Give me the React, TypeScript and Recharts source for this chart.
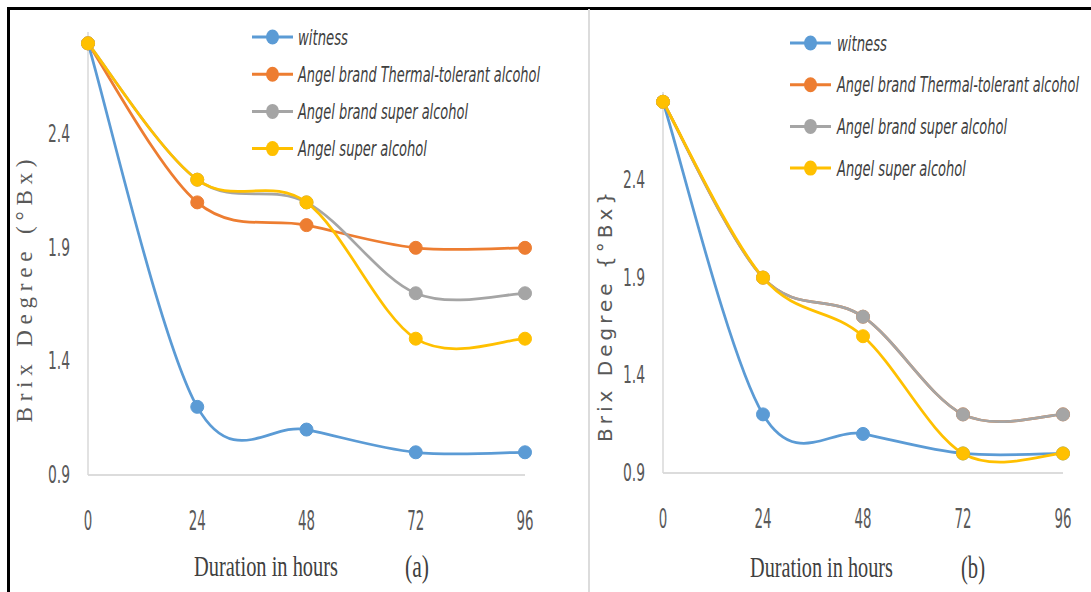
import React from 'react';
import { LineChart, Line, XAxis, YAxis, Legend } from 'recharts';

const hours = [0, 24, 48, 72, 96];
const yTicks = [0.9, 1.4, 1.9, 2.4];

const seriesKeys = ['witness', 'thermal', 'brandSuper', 'angelSuper'];
const seriesNames = [
  'witness',
  'Angel brand Thermal-tolerant alcohol',
  'Angel brand super alcohol',
  'Angel super alcohol',
];
const seriesColors = ['#5B9BD5', '#ED7D31', '#A5A5A5', '#FFC000'];

// panel (a)
const witnessA = [2.8, 1.2, 1.1, 1.0, 1.0];
const thermalA = [2.8, 2.1, 2.0, 1.9, 1.9];
const brandSuperA = [2.8, 2.2, 2.1, 1.7, 1.7];
const angelSuperA = [2.8, 2.2, 2.1, 1.5, 1.5];

// panel (b)
const witnessB = [2.8, 1.2, 1.1, 1.0, 1.0];
const thermalB = [2.8, 1.9, 1.7, 1.2, 1.2];
const brandSuperB = [2.8, 1.9, 1.7, 1.2, 1.2];
const angelSuperB = [2.8, 1.9, 1.6, 1.0, 1.0];

const buildRows = (cols: number[][]) =>
  hours.map((h, i) => {
    const row: any = { h };
    seriesKeys.forEach((k, j) => (row[k] = cols[j][i]));
    return row;
  });

const dataA = buildRows([witnessA, thermalA, brandSuperA, angelSuperA]);
const dataB = buildRows([witnessB, thermalB, brandSuperB, angelSuperB]);

// excel-like smoothed line (catmull-rom through the points)
const excelCurve = (ctx: any) => {
  let pts: number[][] = [];
  return {
    areaStart() {},
    areaEnd() {},
    lineStart() {
      pts = [];
    },
    point(x: number, y: number) {
      pts.push([+x, +y]);
    },
    lineEnd() {
      if (!pts.length) return;
      ctx.moveTo(pts[0][0], pts[0][1]);
      for (let i = 0; i < pts.length - 1; i++) {
        const p0 = pts[i - 1] || pts[i];
        const p1 = pts[i];
        const p2 = pts[i + 1];
        const p3 = pts[i + 2] || p2;
        ctx.bezierCurveTo(
          p1[0] + (p2[0] - p0[0]) / 6,
          p1[1] + (p2[1] - p0[1]) / 6,
          p2[0] - (p3[0] - p1[0]) / 6,
          p2[1] - (p3[1] - p1[1]) / 6,
          p2[0],
          p2[1]
        );
      }
    },
  };
};

const NARROW = '"Liberation Sans Narrow", "DejaVu Sans Condensed", sans-serif';
const SERIF = '"Liberation Serif", "DejaVu Serif", serif';
const legendTextWidths = [50, 242, 170, 129];

const charLen = (s: string, digit: number) =>
  s.split('').reduce((a, c) => a + (c === '.' ? digit * 0.6 : digit), 0);

const YTick = ({ x, y, payload }: any) => {
  const s = payload.value.toFixed(1);
  return (
    <text
      x={x - 18}
      y={y}
      textAnchor="end"
      dominantBaseline="central"
      fill="#595959"
      fontFamily={NARROW}
      fontSize={24}
      textLength={charLen(s, 8.5)}
      lengthAdjust="spacingAndGlyphs"
    >
      {s}
    </text>
  );
};

const XTick = ({ x, y, payload, dy }: any) => {
  const s = String(payload.value);
  return (
    <text
      x={x}
      y={y + dy}
      textAnchor="middle"
      dominantBaseline="central"
      fill="#595959"
      fontFamily={NARROW}
      fontSize={27}
      textLength={charLen(s, 8.5)}
      lengthAdjust="spacingAndGlyphs"
    >
      {s}
    </text>
  );
};

const panels = [
  {
    data: dataA,
    left: 0,
    width: 589,
    margin: { top: 32, right: 64, left: 0, bottom: 0 },
    yAxisWidth: 88,
    xAxisHeight: 117,
    tickDy: 45,
    legend: { left: 232, top: 18, rowGap: 37.2, lineX: 20, textX: 66, boxW: 320 },
    yTitle: { text: 'Brix Degree (°Bx)', x: 24, y: 291, len: 263, font: SERIF, size: 23 },
    xTitle: { x: 194, y: 566, len: 144 },
    tag: { text: '(a)', x: 417, y: 566 },
  },
  {
    data: dataB,
    left: 589,
    width: 502,
    margin: { top: 92, right: 28, left: 0, bottom: 0 },
    yAxisWidth: 74,
    xAxisHeight: 119,
    tickDy: 45,
    legend: { left: 190, top: 24, rowGap: 41.7, lineX: 11, textX: 58, boxW: 305 },
    yTitle: { text: 'Brix Degree {°Bx}', x: 16, y: 317, len: 250, font: '"DejaVu Sans", sans-serif', size: 20 },
    xTitle: { x: 161, y: 567, len: 143 },
    tag: { text: '(b)', x: 384, y: 567 },
  },
];

const Panel = ({ p }: any) => {
  const legendContent = () => (
    <svg width={p.legend.boxW} height={170} style={{ display: 'block', overflow: 'visible' }}>
      {seriesNames.map((name, i) => {
        const cy = 19 + i * p.legend.rowGap;
        return (
          <g key={name}>
            <line x1={p.legend.lineX} x2={p.legend.lineX + 41} y1={cy} y2={cy} stroke={seriesColors[i]} strokeWidth={3} />
            <ellipse cx={p.legend.lineX + 20.5} cy={cy} rx={6.5} ry={7.5} fill={seriesColors[i]} />
            <text
              transform={`translate(${p.legend.textX} ${cy}) scale(1 1.55)`}
              dominantBaseline="central"
              fill="#404040"
              fontFamily={NARROW}
              fontStyle="italic"
              fontSize={14}
              textLength={legendTextWidths[i]}
              lengthAdjust="spacingAndGlyphs"
            >
              {name}
            </text>
          </g>
        );
      })}
    </svg>
  );

  return (
    <div style={{ position: 'absolute', left: p.left, top: 0 }}>
      <LineChart width={p.width} height={592} data={p.data} margin={p.margin}>
        <XAxis
          dataKey="h"
          type="number"
          domain={[0, 96]}
          ticks={hours}
          height={p.xAxisHeight}
          tickLine={false}
          tickSize={0}
          tickMargin={0}
          axisLine={{ stroke: '#d0d0d0', strokeWidth: 1.5 }}
          tick={(props: any) => <XTick {...props} dy={p.tickDy} />}
          interval={0}
          label={() => (
            <g fill="#404040" fontFamily={SERIF}>
              <text
                transform={`translate(${p.xTitle.x} ${p.xTitle.y}) scale(1 1.5)`}
                dominantBaseline="central"
                fontSize={20}
                textLength={p.xTitle.len}
                lengthAdjust="spacingAndGlyphs"
              >
                Duration in hours
              </text>
              <text
                transform={`translate(${p.tag.x} ${p.tag.y}) scale(1 1.5)`}
                textAnchor="middle"
                dominantBaseline="central"
                fontSize={21}
                textLength={24}
                lengthAdjust="spacingAndGlyphs"
              >
                {p.tag.text}
              </text>
            </g>
          )}
        />
        <YAxis
          type="number"
          domain={[0.9, 2.85]}
          ticks={yTicks}
          width={p.yAxisWidth}
          tickLine={false}
          tickSize={0}
          tickMargin={0}
          axisLine={{ stroke: '#d9d9d9', strokeWidth: 1.5 }}
          tick={(props: any) => <YTick {...props} />}
          interval={0}
          label={() => (
            <text
              x={p.yTitle.x}
              y={p.yTitle.y}
              transform={`rotate(-90 ${p.yTitle.x} ${p.yTitle.y})`}
              textAnchor="middle"
              dominantBaseline="central"
              fill="#595959"
              fontFamily={p.yTitle.font}
              fontSize={p.yTitle.size}
              textLength={p.yTitle.len}
              lengthAdjust="spacing"
            >
              {p.yTitle.text}
            </text>
          )}
        />
        <Legend
          layout="vertical"
          align="center"
          verticalAlign="middle"
          content={legendContent}
          wrapperStyle={{ left: p.legend.left, top: p.legend.top, width: p.legend.boxW, height: 170 }}
        />
        {seriesKeys.map((k, i) => (
          <Line
            key={k}
            dataKey={k}
            name={seriesNames[i]}
            type={excelCurve as any}
            stroke={seriesColors[i]}
            strokeWidth={2.75}
            dot={{ r: 6.5, fill: seriesColors[i], stroke: seriesColors[i], strokeWidth: 1 }}
            activeDot={false}
            isAnimationActive={false}
          />
        ))}
      </LineChart>
    </div>
  );
};

export default function App() {
  return (
    <div style={{ position: 'absolute', left: 0, top: 0, width: 1091, height: 592, background: '#fff', overflow: 'hidden' }}>
      {panels.map((p, i) => (
        <Panel key={i} p={p} />
      ))}
      <div style={{ position: 'absolute', left: 7, top: 7, width: 1084, height: 2.5, background: '#000' }} />
      <div style={{ position: 'absolute', left: 7, top: 7, width: 2.5, height: 585, background: '#000' }} />
      <div style={{ position: 'absolute', left: 588, top: 9, width: 2, height: 583, background: '#dcdcdc' }} />
    </div>
  );
}
